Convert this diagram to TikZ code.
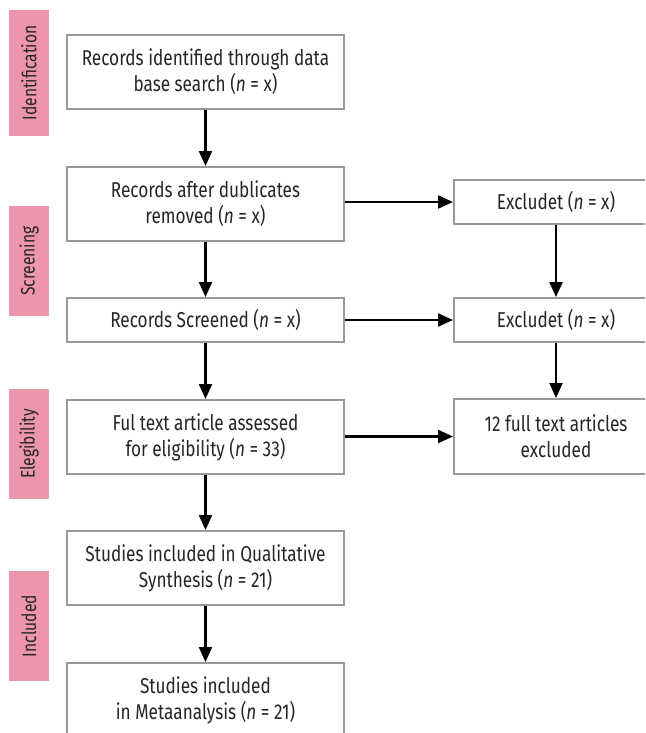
\documentclass[tikz,border=0pt]{standalone}
\usepackage{fontspec}
\setmainfont[FakeStretch=0.8]{Fira Sans}
\usetikzlibrary{arrows.meta}
\definecolor{phase}{HTML}{EC95AD}
\definecolor{boxline}{HTML}{999999}
\begin{document}
\begin{tikzpicture}[x=1pt,y=-1pt,
  font=\fontsize{21.5}{26}\selectfont,
  phaselbl/.style={fill=phase,inner sep=0pt},
  phasetxt/.style={rotate=90,text=black!85,font=\fontsize{19.5}{22}\selectfont},
  flowbox/.style={draw=boxline,line width=2pt,fill=white,align=center,inner sep=0pt,text=black!85},
  arr/.style={-{Triangle[length=15pt,width=13pt]},line width=2.2pt}]
\useasboundingbox (0,0) rectangle (645,733);
\clip (0,0) rectangle (645,733);
% phase labels
\node[phaselbl,minimum width=40,minimum height=126] (pid) at (29,73) {};
\node[phasetxt] (tid) at (pid) {Identification};
\node[phaselbl,minimum width=40,minimum height=110] (psc) at (29,261) {};
\node[phasetxt] (tsc) at (psc) {Screening};
\node[phaselbl,minimum width=40,minimum height=110] (pel) at (29,444) {};
\node[phasetxt] (tel) at (pel) {Elegibility};
\node[phaselbl,minimum width=40,minimum height=110] (pin) at (29,626) {};
\node[phasetxt] (tin) at (pin) {Included};
% left column
\node[flowbox,minimum width=277,minimum height=74] (b1) at (205.5,72) {Records identified through data\\base search (\textit{n} = x)};
\node[flowbox,minimum width=277,minimum height=74] (b2) at (205.5,204) {Records after dublicates\\removed (\textit{n} = x)};
\node[flowbox,minimum width=277,minimum height=44] (b3) at (205.5,320) {Records Screened (\textit{n} = x)};
\node[flowbox,minimum width=277,minimum height=74] (b4) at (205.5,437) {Ful text article assessed\\for eligibility (\textit{n} = 33)};
\node[flowbox,minimum width=277,minimum height=74] (b5) at (205.5,568) {Studies included in Qualitative\\Synthesis (\textit{n} = 21)};
\node[flowbox,minimum width=277,minimum height=74] (b6) at (205.5,700) {Studies included\\in Metaanalysis (\textit{n} = 21)};
% right column
\node[flowbox,minimum width=204,minimum height=44] (r1) at (556,202) {Excludet (\textit{n} = x)};
\node[flowbox,minimum width=204,minimum height=44] (r2) at (556,320) {Excludet (\textit{n} = x)};
\node[flowbox,minimum width=204,minimum height=75] (r3) at (556,436.5) {12 full text articles\\excluded};
% arrows
\draw[arr] (b1) -- (b2);
\draw[arr] (b2) -- (b3);
\draw[arr] (b3) -- (b4);
\draw[arr] (b4) -- (b5);
\draw[arr] (b5) -- (b6);
\draw[arr] (r1.west -| b2.east) -- (r1.west);
\draw[arr] (b3) -- (r2);
\draw[arr] (r3.west -| b4.east) -- (r3.west);
\draw[arr] (r1) -- (r2);
\draw[arr] (r2) -- (r3);
\end{tikzpicture}
\end{document}
